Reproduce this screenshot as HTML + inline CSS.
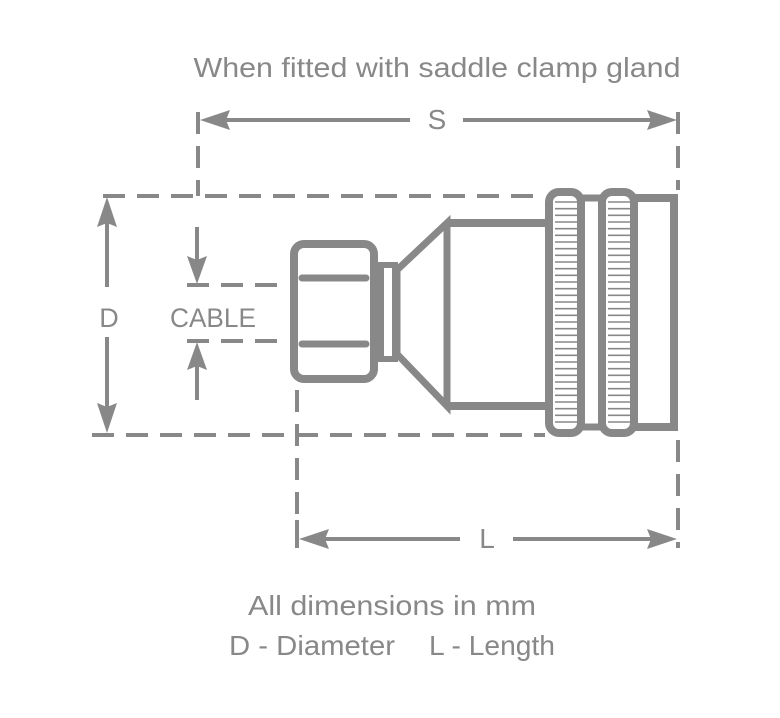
<!DOCTYPE html>
<html><head><meta charset="utf-8"><style>
html,body{margin:0;padding:0;background:#fff;}
svg{display:block;}
text{font-family:"Liberation Sans",sans-serif;fill:#888;}
</style></head><body>
<svg width="780" height="718" viewBox="0 0 780 718" xmlns="http://www.w3.org/2000/svg">
<g stroke="#888" fill="none">
 <g stroke-width="4" stroke-dasharray="22 12">
  <line x1="198" y1="112" x2="198" y2="196"/>
  <line x1="678" y1="112" x2="678" y2="190"/>
  <line x1="678" y1="440" x2="678" y2="548"/>
  <line x1="103" y1="196" x2="545" y2="196"/>
  <line x1="92" y1="435" x2="545" y2="435"/>
  <line x1="187" y1="285" x2="288" y2="285"/>
  <line x1="187" y1="341" x2="288" y2="341"/>
  <line x1="297" y1="390" x2="297" y2="548"/>
 </g>
 <g stroke-width="4">
  <line x1="225" y1="120" x2="410" y2="120"/>
  <line x1="463" y1="120" x2="652" y2="120"/>
  <line x1="678" y1="112" x2="678" y2="132"/>
  <line x1="297" y1="520" x2="297" y2="548"/>
  <line x1="322" y1="539" x2="460" y2="539"/>
  <line x1="513" y1="539" x2="652" y2="539"/>
  <line x1="107" y1="222" x2="107" y2="287"/>
  <line x1="107" y1="337" x2="107" y2="408"/>
  <line x1="197" y1="227" x2="197" y2="260"/>
  <line x1="197" y1="366" x2="197" y2="400"/>
 </g>
</g>
<g fill="#888">
 <polygon points="200,120 230,110 226,120 230,130"/>
 <polygon points="677,120 647,110 651,120 647,130"/>
 <polygon points="299,539 329,529 325,539 329,549"/>
 <polygon points="677,539 647,529 651,539 647,549"/>
 <polygon points="107,197 97,227 107,223 117,227"/>
 <polygon points="107,433 97,403 107,407 117,403"/>
 <polygon points="197,284 187,256 197,260 207,256"/>
 <polygon points="197,342 187,370 197,366 207,370"/>
</g>
<g stroke="#888" fill="none" stroke-width="8">
 <rect x="294" y="244" width="80" height="135" rx="10"/>
 <rect x="381" y="265" width="14" height="94" stroke-width="6"/>
 <polygon points="397,270 447,223 447,406 397,354" stroke-width="7" stroke-linejoin="miter"/>
 <line x1="447" y1="223" x2="548" y2="223"/>
 <line x1="447" y1="406" x2="548" y2="406"/>
 <line x1="580" y1="198" x2="603" y2="198" stroke-width="7"/>
 <line x1="580" y1="427" x2="603" y2="427" stroke-width="7"/>
 <rect x="549" y="192" width="32" height="241" rx="10"/>
 <rect x="602" y="192" width="32" height="241" rx="10"/>
 <polyline points="634,198 674,198 674,427 634,427"/>
 <line x1="302" y1="278" x2="366" y2="278" stroke-width="7" stroke-linecap="round"/>
 <line x1="302" y1="344" x2="366" y2="344" stroke-width="7" stroke-linecap="round"/>
</g>
<g stroke="#888" stroke-width="1.6">
 <path d="M555 202H577M555 208.7H577M555 215.3H577M555 222H577M555 228.7H577M555 235.3H577M555 242H577M555 248.7H577M555 255.3H577M555 262H577M555 268.7H577M555 275.3H577M555 282H577M555 288.7H577M555 295.3H577M555 302H577M555 308.7H577M555 315.3H577M555 322H577M555 328.7H577M555 335.3H577M555 342H577M555 348.7H577M555 355.3H577M555 362H577M555 368.7H577M555 375.3H577M555 382H577M555 388.7H577M555 395.3H577M555 402H577M555 408.7H577M555 415.3H577M555 422H577"/>
 <path transform="translate(53,0)" d="M555 202H577M555 208.7H577M555 215.3H577M555 222H577M555 228.7H577M555 235.3H577M555 242H577M555 248.7H577M555 255.3H577M555 262H577M555 268.7H577M555 275.3H577M555 282H577M555 288.7H577M555 295.3H577M555 302H577M555 308.7H577M555 315.3H577M555 322H577M555 328.7H577M555 335.3H577M555 342H577M555 348.7H577M555 355.3H577M555 362H577M555 368.7H577M555 375.3H577M555 382H577M555 388.7H577M555 395.3H577M555 402H577M555 408.7H577M555 415.3H577M555 422H577"/>
</g>
<text x="437" y="77" font-size="28" text-anchor="middle" textLength="487" lengthAdjust="spacingAndGlyphs">When fitted with saddle clamp gland</text>
<text x="437" y="129" font-size="28" text-anchor="middle">S</text>
<text x="109" y="327" font-size="27" text-anchor="middle">D</text>
<text x="213" y="327" font-size="27" text-anchor="middle" textLength="86" lengthAdjust="spacingAndGlyphs">CABLE</text>
<text x="487" y="548" font-size="28" text-anchor="middle">L</text>
<text x="392" y="615" font-size="28" text-anchor="middle" textLength="288" lengthAdjust="spacingAndGlyphs">All dimensions in mm</text>
<text x="229" y="655" font-size="28" textLength="166" lengthAdjust="spacingAndGlyphs">D - Diameter</text>
<text x="429" y="655" font-size="28" textLength="126" lengthAdjust="spacingAndGlyphs">L - Length</text>
</svg>
</body></html>
